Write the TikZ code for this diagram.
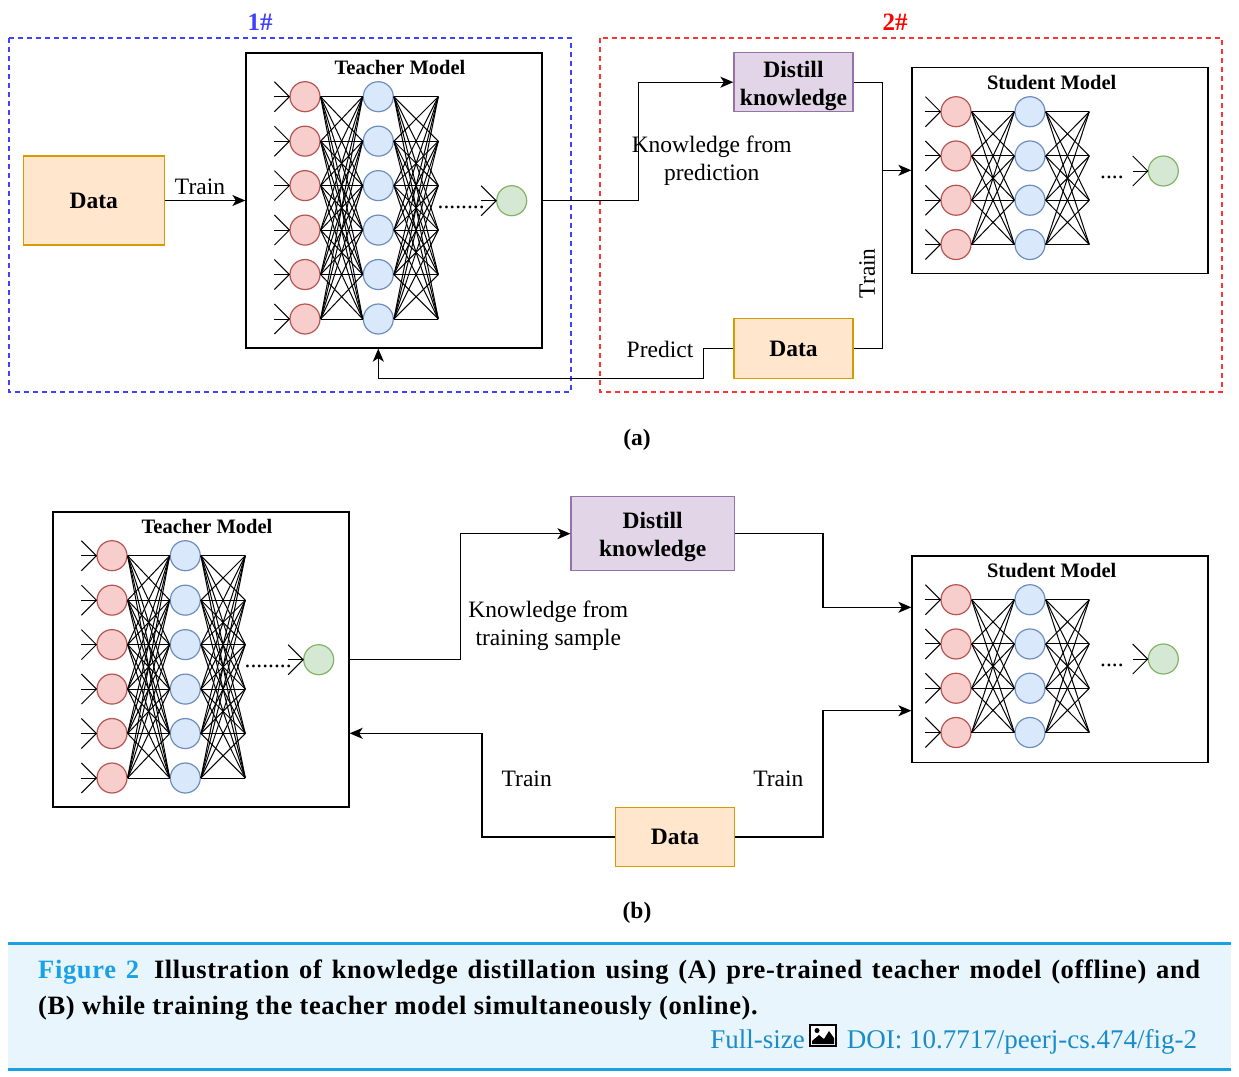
\documentclass[tikz,border=0pt]{standalone}
\usepackage{fontspec}
\setmainfont{Liberation Serif}
\newfontfamily\capfont[LetterSpace=2.5]{Liberation Serif}
\usetikzlibrary{arrows.meta,calc}
\definecolor{dataF}{HTML}{FFE6CC}
\definecolor{dataD}{HTML}{D79B00}
\definecolor{distF}{HTML}{E1D5E7}
\definecolor{distD}{HTML}{9673A6}
\definecolor{redF}{HTML}{F8CECC}
\definecolor{redD}{HTML}{B85450}
\definecolor{blueF}{HTML}{DAE8FC}
\definecolor{blueD}{HTML}{6C8EBF}
\definecolor{greenF}{HTML}{D5E8D4}
\definecolor{greenD}{HTML}{82B366}
\definecolor{grpblue}{HTML}{4040FF}
\definecolor{grpred}{HTML}{FF3333}
\definecolor{figblue}{HTML}{1BA1E6}
\definecolor{doiblue}{HTML}{1A8CC8}
\definecolor{capbg}{HTML}{E9F5FC}
\definecolor{capline}{HTML}{1BA1E2}
\tikzset{
  lbl/.style={font=\fontsize{23.5}{28}\selectfont, align=center},
  blbl/.style={font=\bfseries\fontsize{23.5}{28}\selectfont, align=center},
  ttl/.style={font=\bfseries\fontsize{20.5}{24}\selectfont},
  modelbox/.style={draw=black, line width=1.3pt, inner sep=0},
  databox/.style={draw=dataD, fill=dataF, line width=1.3pt, inner sep=0, blbl},
  distbox/.style={draw=distD, fill=distF, line width=1.3pt, inner sep=0, blbl},
  rn/.style={circle, draw=redD, fill=redF, line width=1.2pt, minimum size=30pt, inner sep=0},
  bn/.style={circle, draw=blueD, fill=blueF, line width=1.2pt, minimum size=30pt, inner sep=0},
  gn/.style={circle, draw=greenD, fill=greenF, line width=1.2pt, minimum size=30pt, inner sep=0},
  nl/.style={line width=1pt, black},
  conn/.style={line width=1.3pt, black},
  arr/.style={conn, -{Stealth[length=13pt,width=11pt,inset=3.5pt]}},
  grpbox/.style={line width=1.3pt, dash pattern=on 5pt off 4pt},
}
% #1 prefix, #2 red x, #3 blue x, #4 third x, #5 top y, #6 spacing, #7 count
\newcommand{\nnet}[7]{%
  \foreach \i in {1,...,#7}{
    \node[rn] (#1r\i) at (#2, {#5+(\i-1)*#6}) {};
    \node[bn] (#1b\i) at (#3, {#5+(\i-1)*#6}) {};
    \coordinate (#1c\i) at (#4, {#5+(\i-1)*#6});
  }
  \foreach \i in {1,...,#7}{
    \foreach \j in {1,...,#7}{
      \draw[nl] (#1r\i.east) -- (#1b\j.west);
      \draw[nl] (#1b\i.east) -- (#1c\j);
    }
    \draw[nl] ($(#1r\i.west)+(-15,0)$) -- (#1r\i.west);
    \draw[nl] ($(#1r\i.west)+(-15,-15)$) -- (#1r\i.west) -- ($(#1r\i.west)+(-15,15)$);
  }
}
\newcommand{\outn}[3]{% name, x, y
  \node[gn] (#1) at (#2,#3) {};
  \draw[nl] ($(#1.west)+(-15,-15)$) -- (#1.west) -- ($(#1.west)+(-15,15)$);
  \draw[nl] ($(#1.west)+(-15,0)$) -- (#1.west);
}
\begin{document}
\begin{tikzpicture}[x=1pt,y=-1pt]
\useasboundingbox (0,0) rectangle (1239,1076);

% ---------------- (a) ----------------
\draw[grpbox, draw=grpblue] (9,38) rectangle (571,392);
\draw[grpbox, draw=grpred] (600,38) rectangle (1222,392);
\node[font=\bfseries\fontsize{25}{30}\selectfont, text=grpblue] (g1) at (260,22) {1\#};
\node[font=\bfseries\fontsize{25}{30}\selectfont, text=red] (g2) at (895,22) {2\#};

\node[databox, minimum width=141pt, minimum height=89pt] (dataA) at (93.8,200.5) {Data};
\node[modelbox, minimum width=296pt, minimum height=295pt] (tA) at (394,200.5) {};
\node[ttl] (tAt) at (400,67) {Teacher Model};
\nnet{tAn}{305}{378.3}{438.3}{96.7}{44.46}{6}
\outn{gA}{511.7}{200.7}
\node[lbl, anchor=base west, inner sep=0] (dotsA) at (437.5,208.5) {........};

\node[distbox, minimum width=119pt, minimum height=59pt] (distA) at (793.5,82.2) {};
\node[blbl] (distAt) at (793.5,85.5) {Distill\\knowledge};
\node[databox, minimum width=119pt, minimum height=59.6pt] (dataA2) at (793.5,348.5) {Data};
\node[modelbox, minimum width=296pt, minimum height=206pt] (sA) at (1060,170.3) {};
\node[ttl] (sAt) at (1051.7,82.7) {Student Model};
\nnet{sAn}{956}{1030}{1089.3}{111.7}{44.27}{4}
\outn{gsA}{1163.3}{171}
\node[lbl, anchor=base west, inner sep=0] (dotsSA) at (1100,178.5) {....};

\draw[arr] (dataA.east) -- (tA.west);
\node[lbl] (trA) at (200,187) {Train};
\draw[arr] (tA.east) -- ++(95.7,0) |- (distA.west);
\node[lbl] (kfA) at (711.7,160.5) {Knowledge from\\prediction};
\coordinate (jA) at (882.3,170.3);
\draw[conn] (distA.east) -| (jA);
\draw[conn] (dataA2.east) -| (jA);
\draw[arr] (jA) -- (sA.west);
\node[lbl, rotate=90] (trA2) at (867.3,273.3) {Train};
\draw[arr] (dataA2.west) -- ++(-29.7,0) |- ($(tA.south -| tAnb1)+(0,29.7)$) -- (tA.south -| tAnb1);
\node[lbl] (prA) at (660,349.3) {Predict};
\node[blbl] (capa) at (637,440) {(a)};

% ---------------- (b) ----------------
\node[modelbox, minimum width=296pt, minimum height=295pt] (tB) at (201,659.5) {};
\node[ttl] (tBt) at (207,526) {Teacher Model};
\nnet{tBn}{112}{185.3}{245.3}{555.7}{44.46}{6}
\outn{gB}{318.7}{659.7}
\node[lbl, anchor=base west, inner sep=0] (dotsB) at (244.5,667.5) {........};

\node[distbox, minimum width=163.3pt, minimum height=74pt] (distB) at (652.7,533.7) {};
\node[blbl] (distBt) at (652.7,537) {Distill\\knowledge};
\node[databox, minimum width=118.6pt, minimum height=59.4pt] (dataB) at (675,837) {Data};
\node[modelbox, minimum width=296pt, minimum height=206.7pt] (sB) at (1060,659.3) {};
\node[ttl] (sBt) at (1051.7,570.7) {Student Model};
\nnet{sBn}{956}{1030}{1089.3}{599.7}{44.27}{4}
\outn{gsB}{1163.3}{659}
\node[lbl, anchor=base west, inner sep=0] (dotsSB) at (1100,666.5) {....};

\draw[arr] (tB.east) -- ++(111,0) |- (distB.west);
\node[lbl] (kfB) at (548.3,625.5) {Knowledge from\\training sample};
\draw[arr] (distB.east) -- ++(88,0) |- ($(sB.west)+(0,-52)$);
\draw[arr] (dataB.east) -- ++(88,0) |- ($(sB.west)+(0,51.4)$);
\draw[arr] (dataB.west) -- ++(-133,0) |- ($(tB.east)+(0,73.8)$);
\node[lbl] (trB1) at (526.7,778.5) {Train};
\node[lbl] (trB2) at (778.3,778.5) {Train};
\node[blbl] (capb) at (637,913) {(b)};

% ---------------- caption ----------------
\fill[capbg] (8,944) rectangle (1231,1069);
\draw[capline, line width=3pt] (8,943.5) -- (1231,943.5);
\draw[capline, line width=3pt] (8,1069.5) -- (1231,1069.5);
\node[anchor=base west, inner sep=0, font=\capfont\bfseries\fontsize{26.5}{32}\selectfont] (cap1) at (38,978)
  {\makebox[1162pt][s]{\textcolor{figblue}{Figure 2}\hspace{5pt} Illustration of knowledge distillation using (A) pre-trained teacher model (offline) and}};
\node[anchor=base west, inner sep=0, font=\capfont\bfseries\fontsize{26.5}{32}\selectfont] (cap2) at (38,1014)
  {(B) while training the teacher model simultaneously (online).};
\node[anchor=base east, inner sep=0, text=doiblue, font=\fontsize{27}{32}\selectfont] (fs) at (805,1048) {Full-size};
\node[anchor=base west, inner sep=0, text=doiblue, font=\fontsize{27}{32}\selectfont] (doi) at (846.7,1048) {DOI: 10.7717/peerj-cs.474/fig-2};
% image icon
\draw[line width=2pt, fill=white] (810,1025) rectangle (836,1046);
\fill[black] (812,1044) -- (812,1041) -- (819,1035) -- (824,1039) -- (829,1031) -- (834,1038) -- (834,1044) -- cycle;
\fill[black] (817,1030.5) circle (2.5);
\end{tikzpicture}
\end{document}
